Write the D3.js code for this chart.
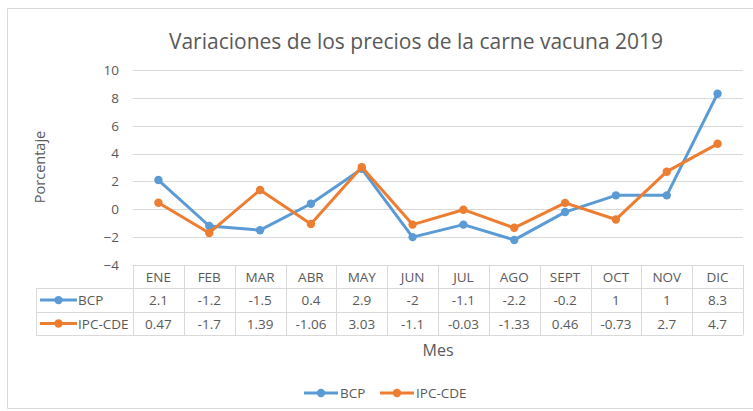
<!DOCTYPE html>
<html>
<head>
<meta charset="utf-8">
<script src="https://cdn.jsdelivr.net/npm/d3@7"></script>
<style>
  body { margin: 0; background: #fff; }
  svg { display: block; font-family: "Open Sans", "Liberation Sans", sans-serif; }
</style>
</head>
<body>
<div id="chart"></div>
<script>
var months = ['ENE', 'FEB', 'MAR', 'ABR', 'MAY', 'JUN', 'JUL', 'AGO', 'SEPT', 'OCT', 'NOV', 'DIC'];
var bcp = [2.1, -1.2, -1.5, 0.4, 2.9, -2, -1.1, -2.2, -0.2, 1, 1, 8.3];
var ipcCde = [0.47, -1.7, 1.39, -1.06, 3.03, -1.1, -0.03, -1.33, 0.46, -0.73, 2.7, 4.7];
var yTicks = [-4, -2, 0, 2, 4, 6, 8, 10];

(function() {
  var series = [
    { name: 'BCP', values: bcp, color: '#5b9bd5' },
    { name: 'IPC-CDE', values: ipcCde, color: '#ed7d31' }
  ];

  var width = 753, height = 411;
  var plotLeft = 133, plotRight = 743, plotTop = 70, plotBottom = 265;
  var rowH = 23.4;
  var textColor = '#595959';
  var gridColor = '#d9d9d9';
  var fs = '13.5px';

  var svg = d3.select('#chart').append('svg')
    .attr('width', width)
    .attr('height', height);

  // chart frame
  svg.append('path')
    .attr('d', 'M7.5,408.5V8.5H' + width + 'M7.5,408.5H' + width)
    .attr('fill', 'none')
    .attr('stroke', gridColor);

  svg.append('text')
    .attr('x', 416).attr('y', 49)
    .attr('text-anchor', 'middle')
    .attr('fill', textColor)
    .style('font-size', '21px')
    .text('Variaciones de los precios de la carne vacuna 2019');

  var x = d3.scaleBand().domain(months).range([plotLeft, plotRight]);
  var y = d3.scaleLinear().domain([-4, 10]).range([plotBottom, plotTop]);
  var cx = function(d, i) { return x(months[i]) + x.bandwidth() / 2; };

  // gridlines
  svg.append('g').selectAll('line')
    .data(yTicks.slice(1))
    .enter().append('line')
    .attr('x1', plotLeft).attr('x2', plotRight)
    .attr('y1', function(d) { return Math.round(y(d)) + 0.5; })
    .attr('y2', function(d) { return Math.round(y(d)) + 0.5; })
    .attr('stroke', gridColor);

  var yAxis = svg.append('g')
    .attr('transform', 'translate(' + (plotLeft - 14) + ',0)')
    .call(d3.axisLeft(y).tickValues(yTicks).tickSize(0).tickPadding(0));
  yAxis.select('.domain').remove();
  yAxis.selectAll('text')
    .attr('fill', textColor)
    .style('font-size', fs)
    .style('font-family', '"Open Sans", sans-serif');

  svg.append('text')
    .attr('transform', 'translate(45,167) rotate(-90)')
    .attr('text-anchor', 'middle')
    .attr('fill', textColor)
    .style('font-size', '14.5px')
    .text('Porcentaje');

  // lines and markers
  var line = d3.line()
    .x(cx)
    .y(function(d) { return y(d); });

  series.forEach(function(s) {
    svg.append('path')
      .datum(s.values)
      .attr('d', line)
      .attr('fill', 'none')
      .attr('stroke', s.color)
      .attr('stroke-width', 3)
      .attr('stroke-linejoin', 'round');
    svg.append('g').selectAll('circle')
      .data(s.values)
      .enter().append('circle')
      .attr('cx', cx)
      .attr('cy', function(d) { return y(d); })
      .attr('r', 4.2)
      .attr('fill', s.color);
  });

  // data table
  var table = svg.append('g');
  var tableLeft = 36;
  var tableBottom = plotBottom + rowH * 3;

  [0, 1, 2, 3].forEach(function(r) {
    var yy = Math.round(plotBottom + r * rowH) + 0.5;
    table.append('line')
      .attr('x1', r === 0 ? plotLeft : tableLeft).attr('x2', plotRight)
      .attr('y1', yy).attr('y2', yy)
      .attr('stroke', gridColor);
  });
  table.append('line')
    .attr('x1', tableLeft + 0.5).attr('x2', tableLeft + 0.5)
    .attr('y1', plotBottom + rowH).attr('y2', tableBottom)
    .attr('stroke', gridColor);
  d3.range(months.length + 1).forEach(function(i) {
    var xx = Math.round(plotLeft + i * x.bandwidth()) + 0.5;
    table.append('line')
      .attr('x1', xx).attr('x2', xx)
      .attr('y1', plotBottom).attr('y2', tableBottom)
      .attr('stroke', gridColor);
  });

  table.append('g').selectAll('text')
    .data(months)
    .enter().append('text')
    .attr('x', cx)
    .attr('y', plotBottom + rowH / 2 + 5)
    .attr('text-anchor', 'middle')
    .attr('fill', textColor)
    .style('font-size', fs)
    .text(function(d) { return d; });

  series.forEach(function(s, r) {
    var cy = plotBottom + rowH * (r + 1) + rowH / 2;
    table.append('line')
      .attr('x1', 40).attr('x2', 77)
      .attr('y1', cy).attr('y2', cy)
      .attr('stroke', s.color).attr('stroke-width', 3);
    table.append('circle')
      .attr('cx', 58.5).attr('cy', cy).attr('r', 4.2)
      .attr('fill', s.color);
    table.append('text')
      .attr('x', 78).attr('y', cy + 5)
      .attr('fill', textColor)
      .style('font-size', fs)
      .text(s.name);
    table.append('g').selectAll('text')
      .data(s.values)
      .enter().append('text')
      .attr('x', cx)
      .attr('y', cy + 5)
      .attr('text-anchor', 'middle')
      .attr('fill', textColor)
      .style('font-size', fs)
      .text(function(d) { return d; });
  });

  svg.append('text')
    .attr('x', 438).attr('y', 356)
    .attr('text-anchor', 'middle')
    .attr('fill', textColor)
    .style('font-size', '16px')
    .text('Mes');

  // legend
  var legend = svg.append('g');
  var legendX = [304, 380];
  series.forEach(function(s, i) {
    var lx = legendX[i];
    legend.append('line')
      .attr('x1', lx).attr('x2', lx + 34)
      .attr('y1', 393).attr('y2', 393)
      .attr('stroke', s.color).attr('stroke-width', 3);
    legend.append('circle')
      .attr('cx', lx + 17).attr('cy', 393).attr('r', 4.2)
      .attr('fill', s.color);
    legend.append('text')
      .attr('x', lx + 36).attr('y', 398)
      .attr('fill', textColor)
      .style('font-size', fs)
      .text(s.name);
  });
})();
</script>
</body>
</html>
